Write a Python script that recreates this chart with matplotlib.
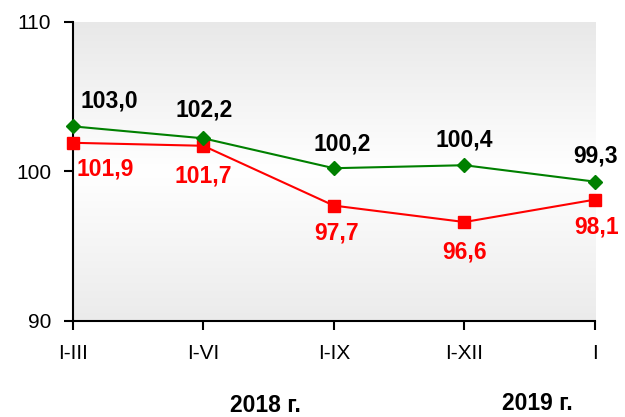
import numpy as np
import matplotlib
matplotlib.use("Agg")
import matplotlib.pyplot as plt
from matplotlib.colors import LinearSegmentedColormap

# Periods and index values
periods = ["I-III", "I-VI", "I-IX", "I-XII", "I"]
green_values = [103.0, 102.2, 100.2, 100.4, 99.3]
red_values = [101.9, 101.7, 97.7, 96.6, 98.1]
y_ticks = [90, 100, 110]
year_labels = ["2018 г.", "2019 г."]

# Label offsets in pixels (dx, dy) relative to each marker
green_offsets = [(37, 25), (1, 28), (8, 24), (0, 25), (1, 26)]
red_offsets = [(33, -26), (0, -30), (3, -27), (0, -30), (2, -27)]

plt.rcParams["font.family"] = ["Liberation Sans", "DejaVu Sans"]

fig = plt.figure(figsize=(6.25, 4.17), dpi=100)
ax = fig.add_axes([0.1163, 0.2309, 0.8357, 0.7171])

x = np.arange(len(periods))
ax.set_xlim(0, len(periods) - 1)
ax.set_ylim(90, 110)

# Vertical grey-white-grey gradient background
cmap = LinearSegmentedColormap.from_list(
    "bg", [(0.0, "#ebebeb"), (0.5, "#ffffff"), (1.0, "#e8e8e8")])
grad = np.linspace(0, 1, 256).reshape(-1, 1)
ax.imshow(grad, cmap=cmap, extent=[0, len(periods) - 1, 90, 110],
          origin="lower", aspect="auto", zorder=0)

green = "#008000"
red = "#ff0000"
ax.plot(x, green_values, color=green, lw=1.5, marker="D", ms=6.8,
        zorder=4, clip_on=False)
ax.plot(x, red_values, color=red, lw=1.5, marker="s", ms=8.5,
        zorder=3, clip_on=False)

for xi, v, (dx, dy) in zip(x, green_values, green_offsets):
    ax.annotate(f"{v:.1f}".replace(".", ","), (xi, v), xytext=(dx, dy),
                textcoords="offset pixels", ha="center", va="center",
                fontsize=16.5, fontweight="bold", color="black",
                annotation_clip=False, zorder=5)
for xi, v, (dx, dy) in zip(x, red_values, red_offsets):
    ax.annotate(f"{v:.1f}".replace(".", ","), (xi, v), xytext=(dx, dy),
                textcoords="offset pixels", ha="center", va="center",
                fontsize=16.5, fontweight="bold", color=red,
                annotation_clip=False, zorder=5)

ax.set_xticks(x)
ax.set_xticklabels(periods)
ax.set_yticks(y_ticks)
ax.tick_params(axis="both", direction="out", length=6.5, width=1.5,
               labelsize=15, color="black")
ax.tick_params(axis="x", pad=10)
ax.tick_params(axis="y", pad=9)

for side in ("top", "right"):
    ax.spines[side].set_visible(False)
for side in ("left", "bottom"):
    ax.spines[side].set_linewidth(1.5)
    ax.spines[side].set_color("black")

fig.text(265 / 625, 1 - 406 / 417, year_labels[0], ha="center", va="center",
         fontsize=16.5, fontweight="bold")
fig.text(537 / 625, 1 - 404 / 417, year_labels[1], ha="center", va="center",
         fontsize=16.5, fontweight="bold")

fig.savefig("out.png", dpi=100)
